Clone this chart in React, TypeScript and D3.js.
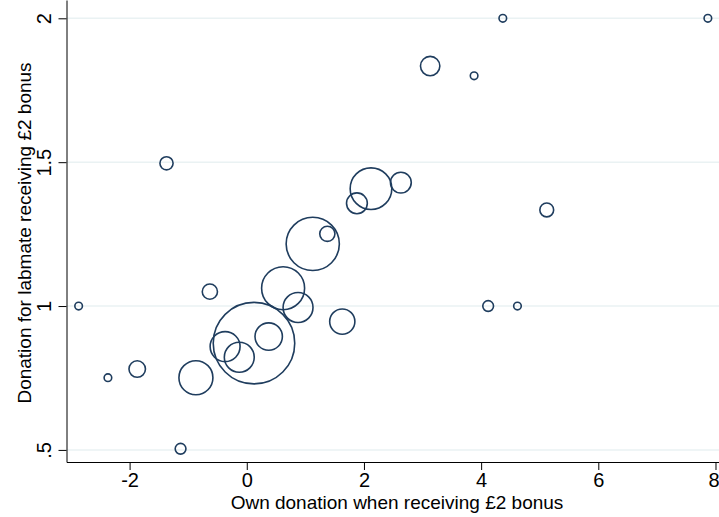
import React, { useEffect, useRef } from "react";
import * as d3 from "d3";

// Own donation (x), labmate donation (y), frequency weight of each point
const ownDonation = [
  4.37, 7.87, 3.13, 3.88, -1.37, 2.12, 2.63, 1.88, 5.12, 1.375, 1.126, -2.87, -0.63,
  0.62, 0.875, 4.12, 4.62, 1.63, 0.123, -0.37, -0.128, 0.374, -1.87, -0.868, -2.37, -1.13,
];
const labmateDonation = [
  2.0, 2.0, 1.834, 1.8, 1.496, 1.408, 1.429, 1.357, 1.334, 1.251, 1.216, 1.0, 1.05,
  1.062, 0.995, 1.0, 1.0, 0.946, 0.871, 0.859, 0.822, 0.894, 0.781, 0.751, 0.751, 0.504,
];
const weights = [
  1, 1, 6.5, 1, 3, 30, 7.5, 7.5, 3.3, 4, 49, 1, 4,
  32, 15.5, 2, 1, 11, 115, 15.5, 15.5, 13, 4.7, 20, 1, 2,
];

const xTicks = [-2, 0, 2, 4, 6, 8];
const yTicks = [0.5, 1, 1.5, 2];
const xTitle = "Own donation when receiving £2 bonus";
const yTitle = "Donation for labmate receiving £2 bonus";

const App = () => {
  const ref = useRef<SVGSVGElement | null>(null);

  useEffect(() => {
    const width = 719;
    const height = 517;
    const left = 66.5;
    const bottom = 462;
    const navy = "#1f3d5e";
    const font = "Arial, 'Liberation Sans', sans-serif";

    const svg = d3.select(ref.current);
    svg.selectAll("*").remove();

    const x = d3.scaleLinear().domain([-3.077, 8.06]).range([left, width]);
    const y = d3.scaleLinear().domain([0.458, 2.0636]).range([bottom, 0]);
    const r = d3.scaleSqrt().domain([0, 1]).range([0, 3.8]);

    svg.append("rect").attr("width", width).attr("height", height).attr("fill", "white");

    // gridlines
    svg.append("g")
      .selectAll("line")
      .data(yTicks)
      .join("line")
      .attr("x1", left)
      .attr("x2", width)
      .attr("y1", d => y(d))
      .attr("y2", d => y(d))
      .attr("stroke", "#eaf2f3")
      .attr("stroke-width", 1.5);

    const data = ownDonation.map((v, i) => ({ x: v, y: labmateDonation[i], w: weights[i] }));

    svg.append("g")
      .selectAll("circle")
      .data(data)
      .join("circle")
      .attr("cx", d => x(d.x))
      .attr("cy", d => y(d.y))
      .attr("r", d => r(d.w))
      .attr("fill", "none")
      .attr("stroke", navy)
      .attr("stroke-width", 1.6);

    const xAxis = svg.append("g")
      .attr("transform", `translate(0,${bottom})`)
      .call(
        d3.axisBottom(x)
          .tickValues(xTicks)
          .tickFormat(d => String(d))
          .tickSizeInner(8)
          .tickSizeOuter(0)
          .tickPadding(3)
      );
    xAxis.selectAll("text").style("font-family", font).style("font-size", "20px").attr("fill", "#000");
    // last label sits at the right edge, keep it inside
    xAxis.selectAll<SVGTextElement, number>("text")
      .filter(d => d === xTicks[xTicks.length - 1])
      .attr("text-anchor", "end")
      .attr("x", width - x(xTicks[xTicks.length - 1]));

    const yAxis = svg.append("g")
      .attr("transform", `translate(${left},0)`)
      .call(
        d3.axisLeft(y)
          .tickValues(yTicks)
          .tickFormat(d => (d === 0.5 ? ".5" : String(d)))
          .tickSizeInner(8)
          .tickSizeOuter(0)
      );
    yAxis.selectAll("text")
      .attr("transform", "rotate(-90)")
      .attr("x", 0)
      .attr("y", -16)
      .attr("dy", 0)
      .attr("text-anchor", "middle")
      .style("font-family", font)
      .style("font-size", "20px")
      .attr("fill", "#000");

    svg.selectAll(".domain").attr("stroke", "#000");
    svg.selectAll(".tick line").attr("stroke", "#000");

    svg.append("text")
      .attr("x", 397)
      .attr("y", 509)
      .attr("text-anchor", "middle")
      .style("font-family", font)
      .style("font-size", "19px")
      .text(xTitle);

    svg.append("text")
      .attr("transform", `translate(31,${bottom / 2 + 2}) rotate(-90)`)
      .attr("text-anchor", "middle")
      .style("font-family", font)
      .style("font-size", "19px")
      .text(yTitle);
  }, []);

  return (
    <svg
      ref={ref}
      width={719}
      height={517}
      style={{ position: "absolute", left: 0, top: 0 }}
    />
  );
};

export default App;
